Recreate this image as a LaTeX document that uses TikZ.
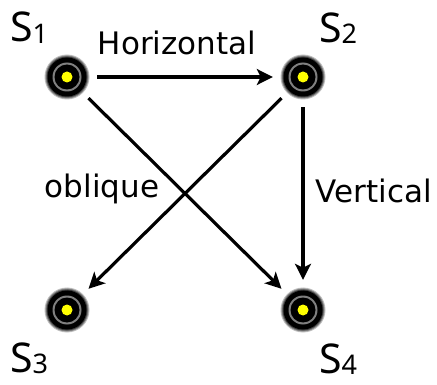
\documentclass[tikz,border=0pt]{standalone}
\usepackage{fontspec}
\setmainfont{DejaVu Sans}
\newfontfamily\labfont{Noto Sans}
\usetikzlibrary{arrows.meta}
\begin{document}
\begin{tikzpicture}[x=1pt,y=-1pt,
  src/.style={circle, minimum size=60pt, inner sep=0pt},
  conn/.style={line width=3.2pt, -{Stealth[length=16pt,width=16pt,inset=4pt]}},
  lbl/.style={font=\fontsize{31}{31}\selectfont, anchor=base, inner sep=0pt},
  sname/.style={anchor=base west, inner sep=0pt, font=\labfont\fontsize{41}{41}\selectfont}]
\useasboundingbox (0,0) rectangle (437,385);
\definecolor{lampyellow}{RGB}{255,255,0}
% sources
\node[src] (s1) at (67,77) {};
\node[src] (s2) at (303,77) {};
\node[src] (s3) at (67,310) {};
\node[src] (s4) at (303,310) {};
\foreach \n in {s1,s2,s3,s4}{
  \fill[black!25] (\n.center) circle (22.5pt);
  \fill[black!50] (\n.center) circle (21.5pt);
  \fill[black!75] (\n.center) circle (20.5pt);
  \fill[black] (\n.center) circle (19.5pt);
  \fill[black!50] (\n.center) circle (14.5pt);
  \fill[black] (\n.center) circle (12.5pt);
  \fill[lampyellow] (\n.center) circle (5.5pt);
}
% names
\node[sname] (n1) at (10,42) {S\raisebox{-2pt}{\fontsize{27}{27}\selectfont 1}};
\node[sname] (n2) at (319,43) {S\raisebox{-1pt}{\fontsize{27}{27}\selectfont 2}};
\node[sname] (n3) at (10,372) {S\raisebox{-1pt}{\fontsize{27}{27}\selectfont 3}};
\node[sname] (n4) at (319,373) {S\raisebox{-1pt}{\fontsize{27}{27}\selectfont 4}};
% connectors
\draw[conn] (s1) -- (s2);
\draw[conn] (s2) -- (s4);
\draw[conn] (s2) -- (s3);
\draw[conn] (s1) -- (s4);
% labels
\node[lbl] (h) at (177,55) {Horizontal};
\node[lbl] (o) at (102,198) {oblique};
\node[lbl] (v) at (374,203) {Vertical};
\end{tikzpicture}
\end{document}
